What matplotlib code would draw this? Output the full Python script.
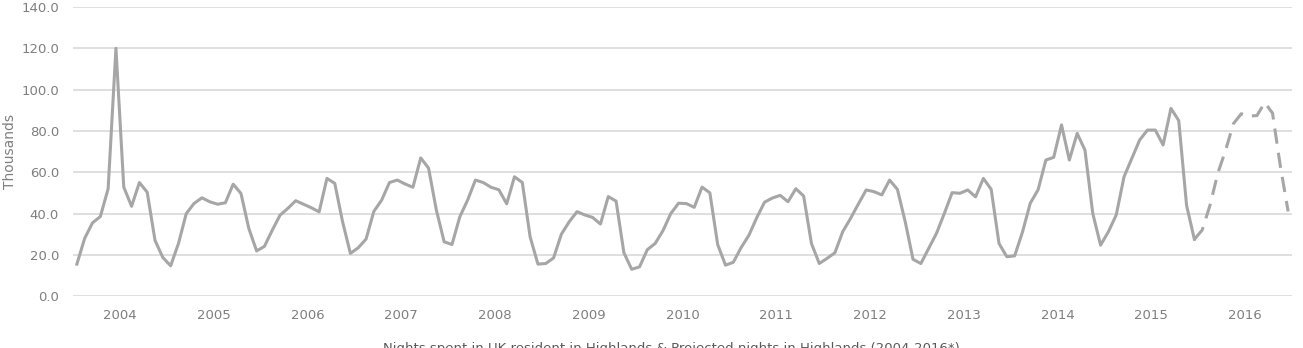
import matplotlib
matplotlib.use("Agg")
import matplotlib.pyplot as plt

# monthly values, thousands (Jan 2004 - Dec 2016)
years = [str(y) for y in range(2004, 2017)]

actual = [
    15.5, 28, 35.5, 38.5, 52, 120, 52.8, 43.5, 55, 50.3, 27, 18.7,        # 2004
    14.7, 25.5, 40, 44.9, 47.6, 45.7, 44.5, 45.2, 54.2, 49.7, 32.8, 21.9,  # 2005
    24.1, 31.9, 39.2, 42.5, 46.2, 44.5, 42.8, 40.8, 57, 54.6, 36, 20.7,    # 2006
    23.4, 27.6, 41, 46.5, 55, 56.2, 54.3, 52.7, 66.9, 62, 41.7, 26.3,      # 2007
    25, 38.4, 46.5, 56.2, 55, 52.7, 51.5, 44.7, 57.8, 55, 28.7, 15.5,      # 2008
    15.8, 18.5, 30, 36, 40.9, 39.3, 38.1, 34.9, 48.2, 46, 21, 13,          # 2009
    14.2, 22.5, 25.5, 31.7, 40, 45, 44.8, 43, 52.8, 50, 25, 15,            # 2010
    16.4, 23.5, 29.5, 38, 45.5, 47.5, 48.8, 45.7, 52, 48.5, 25.5, 15.8,    # 2011
    18.3, 21, 31.2, 37.6, 44.6, 51.4, 50.6, 49, 56.2, 51.7, 36, 17.8,      # 2012
    15.8, 23.1, 30.4, 40, 50.1, 49.8, 51.4, 48.1, 57, 51.7, 25.5, 19.1,    # 2013
    19.5, 31, 45, 51.5, 65.9, 67.2, 82.9, 65.9, 78.8, 70.7, 40, 24.7,      # 2014
    31.2, 39.3, 57.8, 66.7, 75.6, 80.4, 80.4, 73.2, 90.9, 85, 44, 27.5,    # 2015
]
# projected 2016, starts from Dec 2015 point
projected = [27.5, 32, 44, 59.5, 70.7, 83.5, 88.3, 87.2, 87.4, 93.7, 88.6, 63, 41]

line_color = "#a6a6a6"
text_color = "#7f7f7f"

fig = plt.figure(figsize=(13.03, 3.48), dpi=100)
ax = fig.add_axes([0.056, 0.149, 0.9356, 0.831])

x_act = list(range(len(actual)))
x_proj = list(range(len(actual) - 1, len(actual) - 1 + len(projected)))
ax.plot(x_act, actual, color=line_color, lw=2.2, solid_joinstyle="round")
ax.plot(x_proj, projected, color=line_color, lw=2.2, dashes=(5, 3))

ax.set_xlim(-0.5, 155.5)
ax.set_ylim(0, 140)
ax.set_yticks(range(0, 141, 20))
ax.set_yticklabels([f"{v:.1f}" for v in range(0, 141, 20)])
ax.set_xticks([5.5 + 12 * k for k in range(len(years))])
ax.set_xticklabels(years)
ax.grid(axis="y", color="#d9d9d9", lw=1.2)
ax.set_axisbelow(True)
for s in ax.spines.values():
    s.set_visible(False)
ax.tick_params(length=0, colors=text_color, labelsize=9.5)
ax.tick_params(axis="x", pad=9)
ax.tick_params(axis="y", pad=10)
ax.set_ylabel("Thousands", color=text_color, fontsize=10, labelpad=3)

# legend text is clipped by the bottom edge in the original
fig.text(0.515, 0.016, "Nights spent in UK resident in Highlands & Projected nights in Highlands (2004-2016*)",
         ha="center", va="top", color="#595959", fontsize=9.5)

fig.savefig("out.png", dpi=100)
